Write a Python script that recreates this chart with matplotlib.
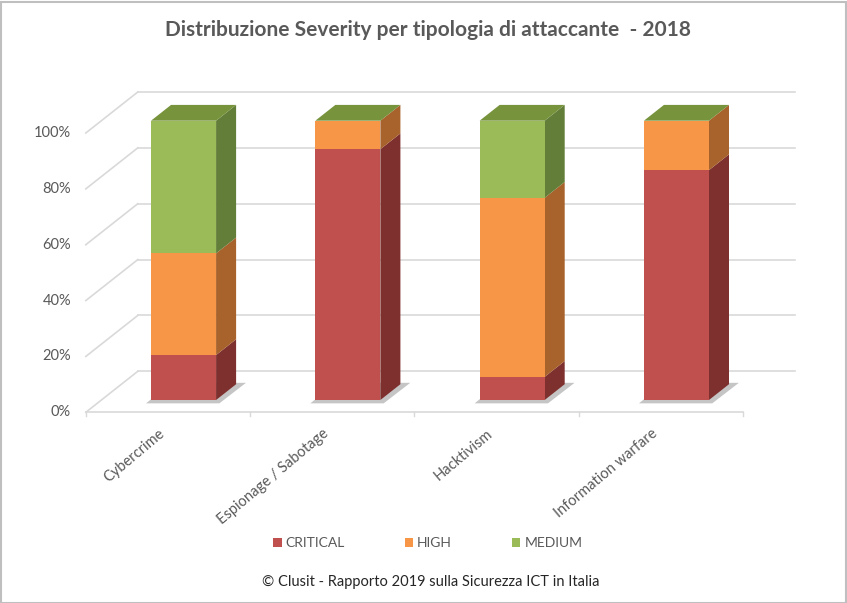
import matplotlib
matplotlib.use("Agg")
from matplotlib import patches, pyplot as plt

# data (share of incidents per severity)
categories = ["Cybercrime", "Espionage / Sabotage", "Hacktivism", "Information warfare"]
critical = [0.161, 0.898, 0.083, 0.823]
high = [0.364, 0.102, 0.641, 0.177]
medium = [0.475, 0.0, 0.276, 0.0]
series_names = ["CRITICAL", "HIGH", "MEDIUM"]
y_ticks = [0.0, 0.2, 0.4, 0.6, 0.8, 1.0]
y_tick_labels = ["0%", "20%", "40%", "60%", "80%", "100%"]

front_colors = ["#C0504D", "#F79646", "#9BBB59"]
side_colors = ["#7E302E", "#A8622B", "#637E38"]
top_color = "#77933C"
text_gray = "#595959"
grid_gray = "#D9D9D9"

plt.rcParams['font.family'] = ['Lato', 'DejaVu Sans']

W, H = 847, 603
fig = plt.figure(figsize=(W / 100, H / 100), dpi=100)

# figure border
fig.patches.append(patches.Rectangle((0.5 / W, 0.5 / H), 1 - 2 / W, 1 - 2 / H,
                                     transform=fig.transFigure, fill=False,
                                     edgecolor="#BFBFBF", linewidth=1.5))

ax = fig.add_axes([60 / W, (H - 420) / H, 740 / W, 340 / H])
ax.set_xlim(-0.752, 3.752)
ax.set_ylim(-0.0716, 1.1457)
ax.axis("off")

bar_width = 0.396
# full floor depth vector (data units) and where the bars sit in it
depth_x, depth_y = 0.3165, 0.1468
t_front, t_back = 0.3, 0.685
bar_dx = (t_back - t_front) * depth_x
bar_dy = (t_back - t_front) * depth_y

# walls: floor front-left corner
floor_x0 = -0.5 - t_front * depth_x
floor_y0 = -t_front * depth_y
floor_x1 = len(categories) - 0.5 - t_front * depth_x
back_x1 = floor_x1 + depth_x

for v, lab in zip(y_ticks, y_tick_labels):
    ax.plot([floor_x0, floor_x0 + depth_x], [v + floor_y0, v + floor_y0 + depth_y],
            color=grid_gray, linewidth=1.2, zorder=0)
    ax.plot([floor_x0 + depth_x, back_x1], [v + floor_y0 + depth_y] * 2,
            color=grid_gray, linewidth=1.2, zorder=0)
    ax.text(floor_x0 - 0.09, v + floor_y0, lab, ha="right", va="center",
            fontsize=10.5, color=text_gray)

# floor front edge with category tick marks
ax.plot([floor_x0, floor_x1], [floor_y0] * 2, color=grid_gray, linewidth=1.2, zorder=0)
for k in range(len(categories) + 1):
    xk = floor_x0 + k * (floor_x1 - floor_x0) / len(categories)
    ax.plot([xk, xk], [floor_y0, floor_y0 - 0.012], color=grid_gray, linewidth=1.0)

x = list(range(len(categories)))

# soft shadow under the bars
for xi in x:
    left = xi - bar_width / 2
    ax.add_patch(patches.Polygon(
        [(left - 0.03, -0.012), (left + bar_width + 0.02, -0.012),
         (left + bar_width + bar_dx + 0.06, bar_dy + 0.005),
         (left + bar_dx, bar_dy + 0.005)],
        closed=True, facecolor="#7F7F7F", edgecolor="none", alpha=0.45, zorder=1))

# stacked bars with side faces
bottoms = [0.0] * len(categories)
for s, values in enumerate([critical, high, medium]):
    ax.bar(x, values, bottom=bottoms, width=bar_width, color=front_colors[s],
           edgecolor="none", zorder=3, label=series_names[s])
    for xi in x:
        y0 = bottoms[xi]
        y1 = y0 + values[xi]
        if values[xi] <= 0:
            continue
        right = xi + bar_width / 2
        ax.add_patch(patches.Polygon(
            [(right, y0), (right + bar_dx, y0 + bar_dy),
             (right + bar_dx, y1 + bar_dy), (right, y1)],
            closed=True, facecolor=side_colors[s], edgecolor="none", zorder=2))
    bottoms = [b + v for b, v in zip(bottoms, values)]

# top faces
for xi in x:
    left = xi - bar_width / 2
    top = bottoms[xi]
    ax.add_patch(patches.Polygon(
        [(left, top), (left + bar_width, top),
         (left + bar_width + bar_dx, top + bar_dy), (left + bar_dx, top + bar_dy)],
        closed=True, facecolor=top_color, edgecolor="none", zorder=3))

# category labels
for xi, name in zip(x, categories):
    ax.text(xi - 0.1, floor_y0 - 0.05, name, rotation=40, ha="right", va="top",
            fontsize=10.5, color=text_gray)

fig.text(0.505, 1 - 30 / H, "Distribuzione Severity per tipologia di attaccante  - 2018",
         ha="center", va="center", fontsize=15, fontweight="bold", color=text_gray)

handles = [patches.Patch(facecolor=c, edgecolor="none") for c in front_colors]
fig.legend(handles, series_names, loc="center", bbox_to_anchor=(0.505, 1 - 543 / H),
           ncol=3, frameon=False, fontsize=10, labelcolor=text_gray,
           handlelength=0.6, handleheight=0.6, handletextpad=0.3, columnspacing=4.3)

fig.text(0.508, 1 - 582 / H, "© Clusit - Rapporto 2019 sulla Sicurezza ICT in Italia",
         ha="center", va="center", fontsize=10.5, color="#262626")

plt.savefig("out.png", dpi=100)
plt.close()
